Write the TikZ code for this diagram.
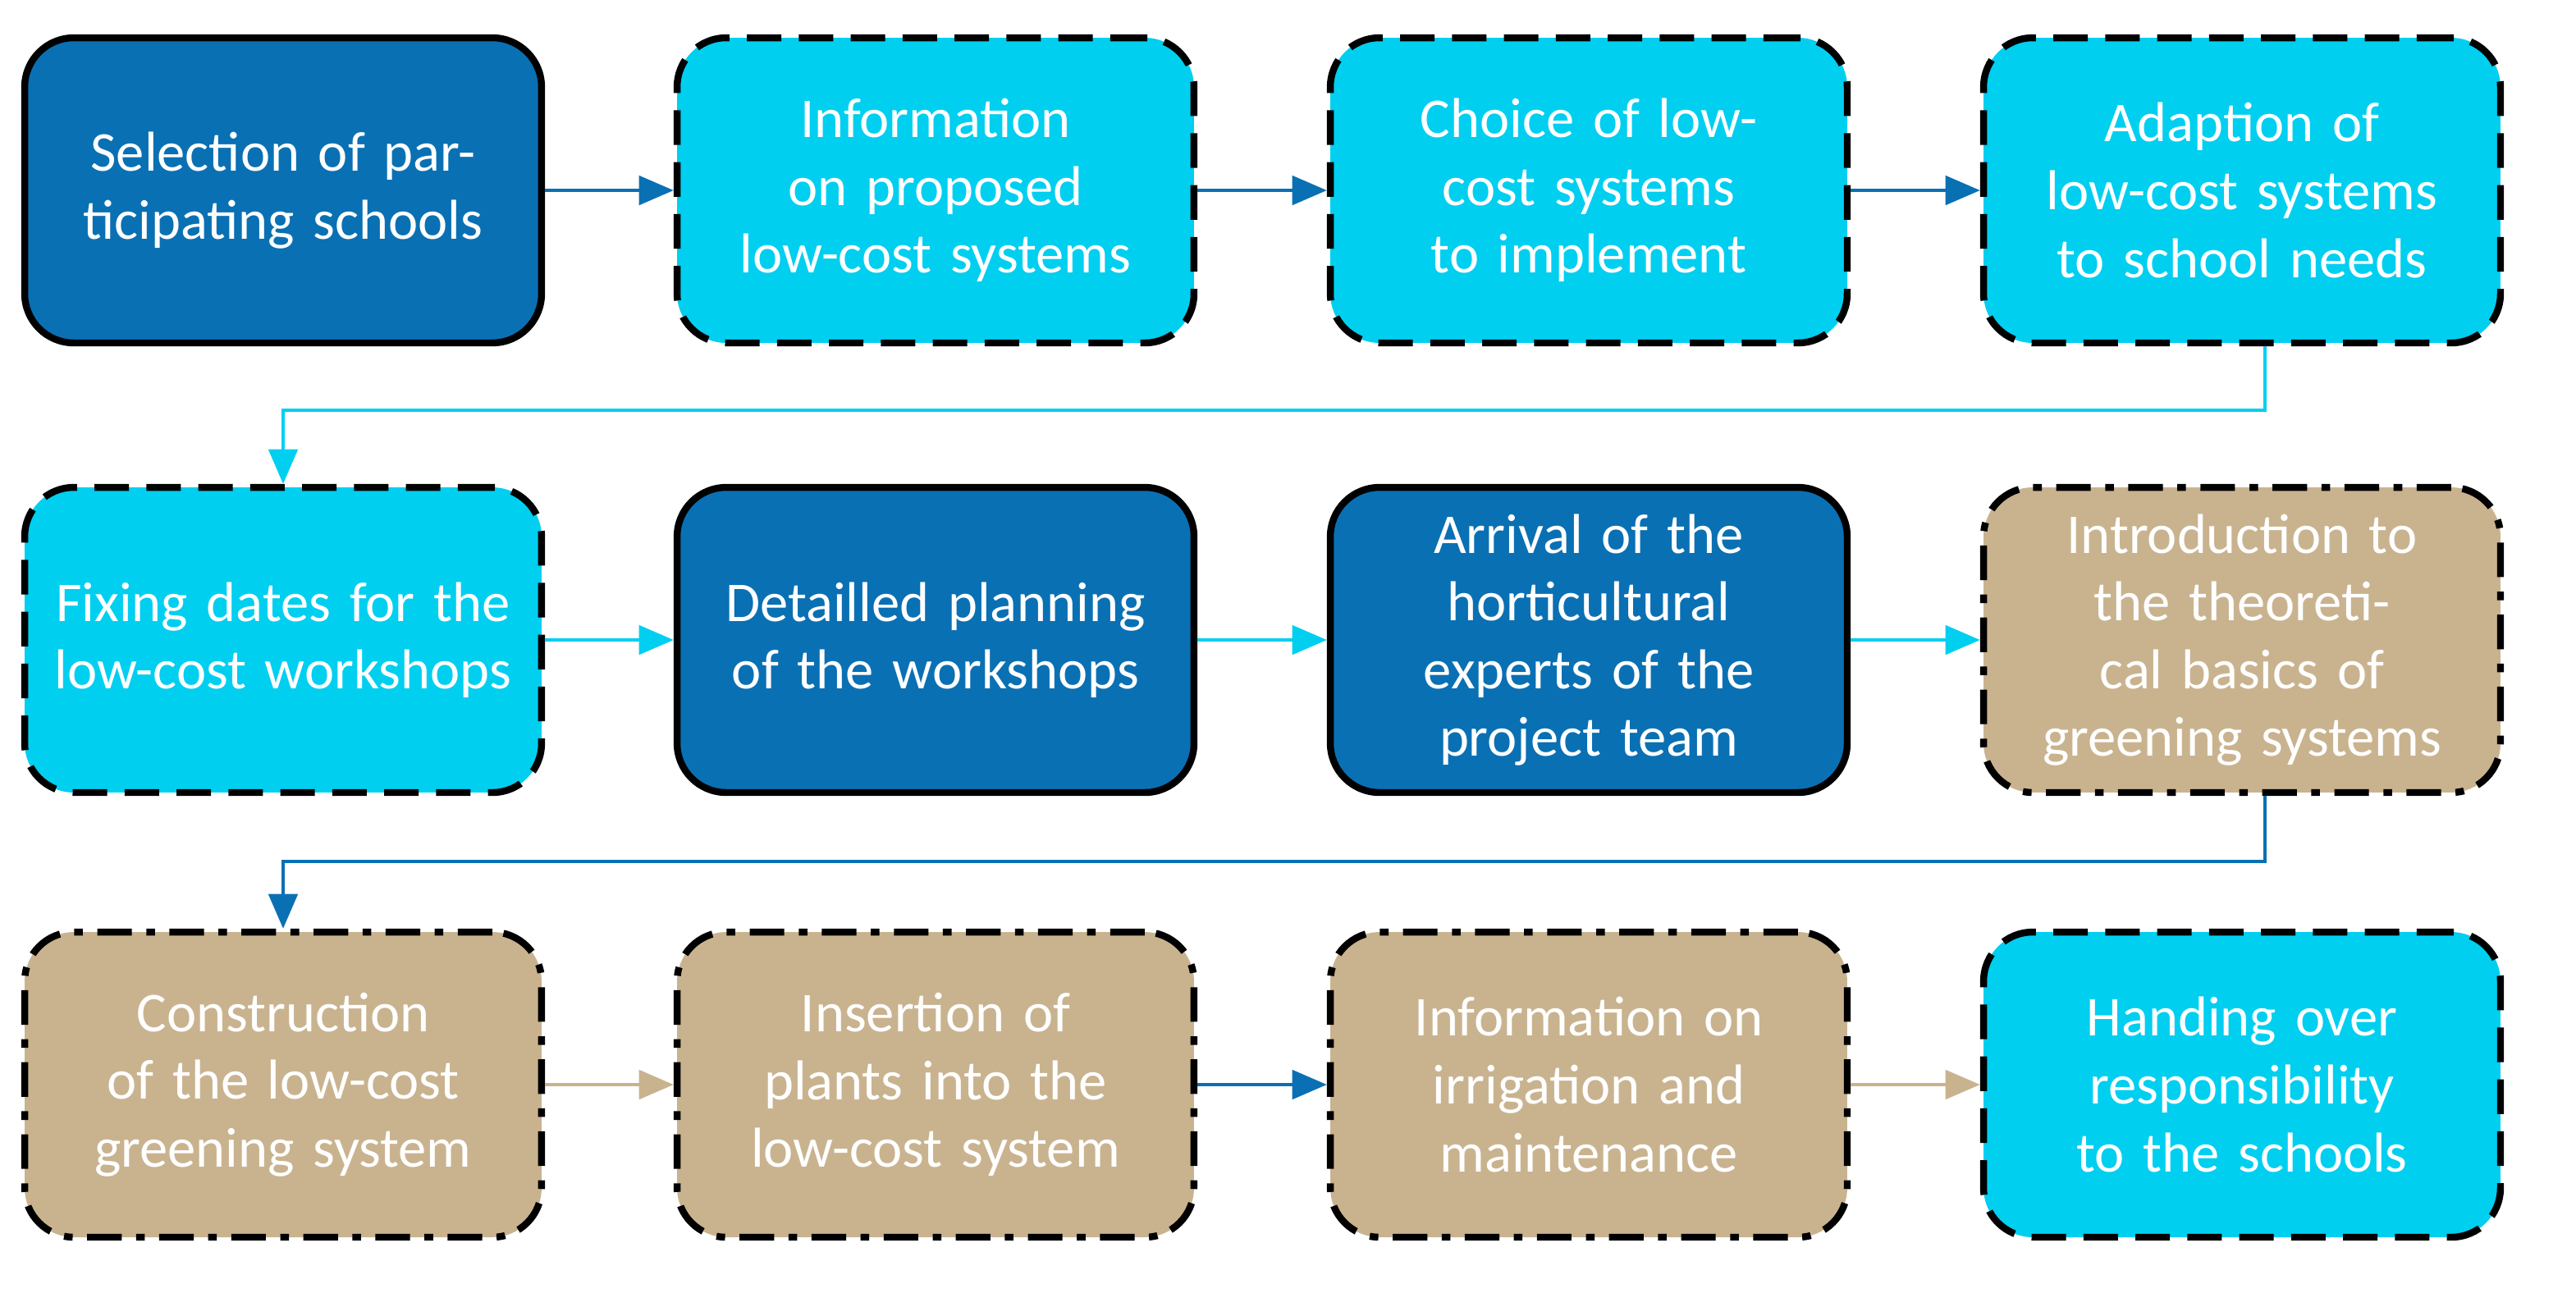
\documentclass[tikz,border=0pt]{standalone}
\usepackage{fontspec}
\setmainfont{Carlito}
\usetikzlibrary{arrows.meta}
\definecolor{dblue}{HTML}{0A70B4}
\definecolor{cyanb}{HTML}{00CFF0}
\definecolor{tan}{HTML}{C9B38F}
\begin{document}
\begin{tikzpicture}[x=0.02cm,y=-0.02cm,
 box/.style={draw=black,line width=2.4pt,rounded corners=0.6cm,minimum width=6.3cm,minimum height=3.72cm,text width=5.6cm,align=center,font=\fontsize{19.5}{23.5}\selectfont,inner sep=0pt},
 sol/.style={box,solid},
 dsh/.style={box,dash pattern=on 12pt off 6pt},
 dd/.style={box,dash pattern=on 12pt off 5pt on 3pt off 5pt},
 arr/.style={line width=1.3pt,-{Triangle[length=12pt,width=10pt]}}]
\useasboundingbox (0,0) rectangle (1569.5,787.5);
\node[sol,fill=dblue,text=white] (a1) at (172.5,116) {Selection of participating schools};
\node[dsh,fill=cyanb,text=white] (a2) at (570,116) {Information on proposed low-cost systems};
\node[dsh,fill=cyanb,text=white] (a3) at (968,116) {Choice of low-cost systems to implement};
\node[dsh,fill=cyanb,text=white] (a4) at (1366,116) {Adaption of low-cost systems to school needs};
\node[dsh,fill=cyanb,text=white] (b1) at (172.5,390) {Fixing dates for the low-cost workshops};
\node[sol,fill=dblue,text=white] (b2) at (570,390) {Detailled planning of the workshops};
\node[sol,fill=dblue,text=white] (b3) at (968,390) {Arrival of the horticultural experts of the project team};
\node[dd,fill=tan,text=white] (b4) at (1366,390) {Introduction to the theoretical basics of greening systems};
\node[dd,fill=tan,text=white] (c1) at (172.5,661) {Construction of the low-cost greening system};
\node[dd,fill=tan,text=white] (c2) at (570,661) {Insertion of plants into the low-cost system};
\node[dd,fill=tan,text=white] (c3) at (968,661) {Information on irrigation and maintenance};
\node[dsh,fill=cyanb,text=white] (c4) at (1366,661) {Handing over responsibility to the schools};
\draw[arr,dblue] (a1) -- (a2);
\draw[arr,dblue] (a2) -- (a3);
\draw[arr,dblue] (a3) -- (a4);
\coordinate (k1) at (1380,250);
\coordinate (k2) at (172.5,250);
\draw[arr,cyanb] (a4.south -| k1) -- (k1) -- (k2) -- (b1.north);
\draw[arr,cyanb] (b1) -- (b2);
\draw[arr,cyanb] (b2) -- (b3);
\draw[arr,cyanb] (b3) -- (b4);
\coordinate (m1) at (1380,525);
\coordinate (m2) at (172.5,525);
\draw[arr,dblue] (b4.south -| m1) -- (m1) -- (m2) -- (c1.north);
\draw[arr,tan] (c1) -- (c2);
\draw[arr,dblue] (c2) -- (c3);
\draw[arr,tan] (c3) -- (c4);
\end{tikzpicture}
\end{document}
